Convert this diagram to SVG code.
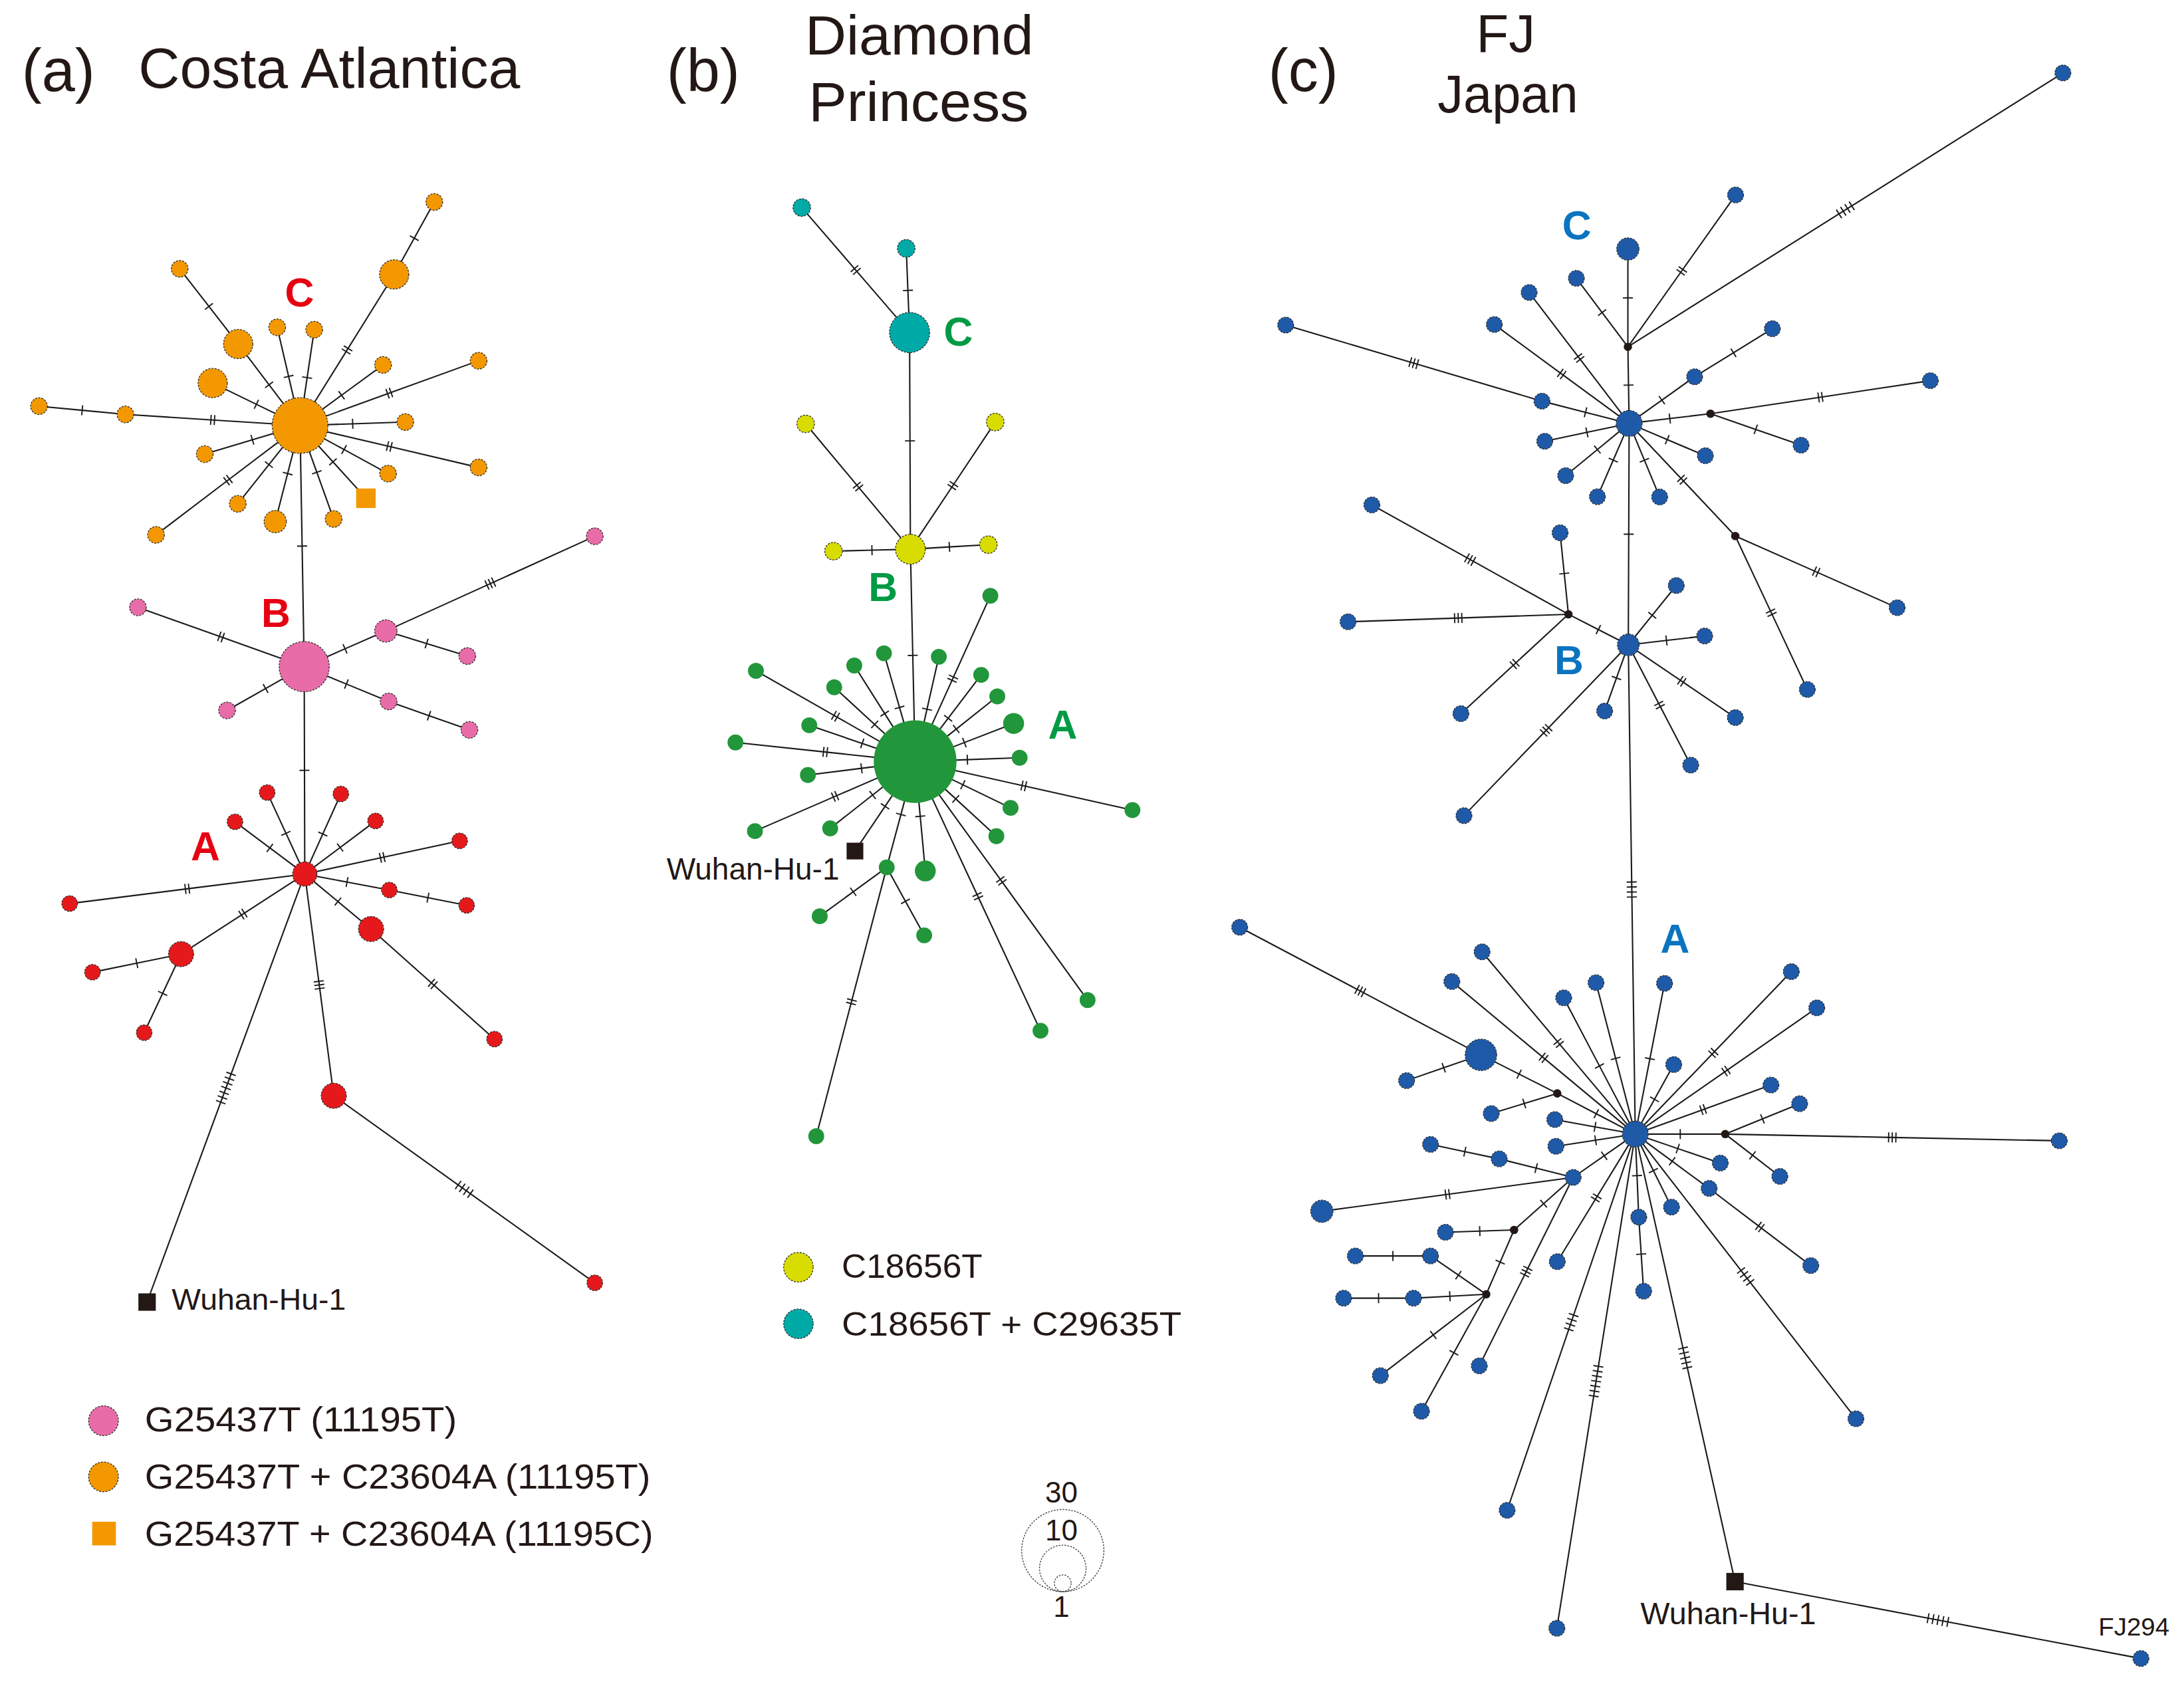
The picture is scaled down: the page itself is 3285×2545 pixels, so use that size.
<svg xmlns="http://www.w3.org/2000/svg" width="3285" height="2545" viewBox="0 0 3285 2545">
<defs>
<marker id="t1" markerUnits="userSpaceOnUse" orient="auto" viewBox="-20 -20 40 40" markerWidth="40" markerHeight="40" refX="0" refY="0" overflow="visible"><path d="M0 -3.6V3.6" stroke="#1a1a1a" stroke-width="0.9" fill="none"/></marker>
<marker id="t2" markerUnits="userSpaceOnUse" orient="auto" viewBox="-20 -20 40 40" markerWidth="40" markerHeight="40" refX="0" refY="0" overflow="visible"><path d="M-1.3 -3.6V3.6M1.3 -3.6V3.6" stroke="#1a1a1a" stroke-width="0.9" fill="none"/></marker>
<marker id="t3" markerUnits="userSpaceOnUse" orient="auto" viewBox="-20 -20 40 40" markerWidth="40" markerHeight="40" refX="0" refY="0" overflow="visible"><path d="M-2.6 -3.6V3.6M0 -3.6V3.6M2.6 -3.6V3.6" stroke="#1a1a1a" stroke-width="0.9" fill="none"/></marker>
<marker id="t4" markerUnits="userSpaceOnUse" orient="auto" viewBox="-20 -20 40 40" markerWidth="40" markerHeight="40" refX="0" refY="0" overflow="visible"><path d="M-5.4 -3.6V3.6M-1.8 -3.6V3.6M1.8 -3.6V3.6M5.4 -3.6V3.6" stroke="#1a1a1a" stroke-width="0.9" fill="none"/></marker>
<marker id="t5" markerUnits="userSpaceOnUse" orient="auto" viewBox="-20 -20 40 40" markerWidth="40" markerHeight="40" refX="0" refY="0" overflow="visible"><path d="M-7.2 -3.6V3.6M-3.6 -3.6V3.6M0 -3.6V3.6M3.6 -3.6V3.6M7.2 -3.6V3.6" stroke="#1a1a1a" stroke-width="0.9" fill="none"/></marker>
<marker id="t7" markerUnits="userSpaceOnUse" orient="auto" viewBox="-20 -20 40 40" markerWidth="40" markerHeight="40" refX="0" refY="0" overflow="visible"><path d="M-10.8 -3.6V3.6M-7.2 -3.6V3.6M-3.6 -3.6V3.6M0 -3.6V3.6M3.6 -3.6V3.6M7.2 -3.6V3.6M10.8 -3.6V3.6" stroke="#1a1a1a" stroke-width="0.9" fill="none"/></marker>
</defs>
<style>
.e{fill:none;stroke:#1a1a1a;stroke-width:1}
.m1{marker-mid:url(#t1)}.m2{marker-mid:url(#t2)}.m3{marker-mid:url(#t3)}.m4{marker-mid:url(#t4)}.m5{marker-mid:url(#t5)}.m7{marker-mid:url(#t7)}
.n{stroke:#2b2b2b;stroke-width:0.6;stroke-dasharray:1.4 0.9}
.or{fill:#f39800}.pk{fill:#e86ca7}.rd{fill:#e5191c}.tl{fill:#00aaa6}.yl{fill:#d8dc00}.gn{fill:#22963a}.bl{fill:#1f5aa8}.jn{fill:#231815}
.t{font-family:"Liberation Sans",Arial,sans-serif;fill:#231815}
.lb{font-family:"Liberation Sans",Arial,sans-serif;font-weight:bold;font-size:29px;text-anchor:middle}
.la{fill:#e60012}.lg{fill:#009a44}.lc{fill:#0a74c0}
.sc{fill:none;stroke:#333;stroke-width:0.6;stroke-dasharray:1.2 0.9}
</style>
<rect x="0" y="0" width="3285" height="2545" fill="#ffffff"/>
<g transform="scale(2.0951)">
<g id="titles">
<text class="t" x="15.6" y="65.5" font-size="43">(a)</text>
<text class="t" x="99.4" y="63" font-size="41" textLength="274" lengthAdjust="spacingAndGlyphs">Costa Atlantica</text>
<text class="t" x="478.6" y="65.5" font-size="43">(b)</text>
<text class="t" x="578" y="39.2" font-size="40" textLength="164" lengthAdjust="spacingAndGlyphs">Diamond</text>
<text class="t" x="580.5" y="87" font-size="40" textLength="158" lengthAdjust="spacingAndGlyphs">Princess</text>
<text class="t" x="910.6" y="65.5" font-size="43">(c)</text>
<text class="t" x="1081" y="37" font-size="38" text-anchor="middle">FJ</text>
<text class="t" x="1032" y="80.7" font-size="38" textLength="101" lengthAdjust="spacingAndGlyphs">Japan</text>
</g>
<g id="connectors">
<path class="e m2" d="M215.4 305.5L249.2 251.25L283 197"/>
<path class="e m1" d="M283 197L297.4 171L311.8 145"/>
<path class="e m1" d="M129 193L150 220L171 247"/>
<path class="e m1" d="M171 247L193.2 276.25L215.4 305.5"/>
<path class="e m1" d="M199 235L207.2 270.25L215.4 305.5"/>
<path class="e m1" d="M225.6 236.7L220.5 271.1L215.4 305.5"/>
<path class="e m1" d="M152.7 275L184.05 290.25L215.4 305.5"/>
<path class="e m1" d="M28 291.6L59 294.55L90 297.5"/>
<path class="e m2" d="M90 297.5L152.7 301.5L215.4 305.5"/>
<path class="e m1" d="M275 262L245.2 283.75L215.4 305.5"/>
<path class="e m2" d="M343.6 259L279.5 282.25L215.4 305.5"/>
<path class="e m1" d="M291 303L253.2 304.25L215.4 305.5"/>
<path class="e m2" d="M343.6 335.6L279.5 320.55L215.4 305.5"/>
<path class="e m1" d="M278.6 340L247 322.75L215.4 305.5"/>
<path class="e m1" d="M262.7 357.7L239.05 331.6L215.4 305.5"/>
<path class="e m1" d="M239.5 372.6L227.45 339.05L215.4 305.5"/>
<path class="e m1" d="M197.6 374.5L206.5 340L215.4 305.5"/>
<path class="e m1" d="M170.7 361.7L193.05 333.6L215.4 305.5"/>
<path class="e m2" d="M112 384L163.7 344.75L215.4 305.5"/>
<path class="e m1" d="M147 326L181.2 315.75L215.4 305.5"/>
<path class="e m1" d="M215.4 305.5L216.9 392.05L218.4 478.6"/>
<path class="e m2" d="M99 436L158.7 457.3L218.4 478.6"/>
<path class="e m1" d="M218.4 478.6L247.7 465.8L277 453"/>
<path class="e m3" d="M277 453L352 419L427 385"/>
<path class="e m1" d="M277 453L306.25 462L335.5 471"/>
<path class="e m1" d="M218.4 478.6L190.7 494.3L163 510"/>
<path class="e m1" d="M218.4 478.6L248.7 491.1L279 503.6"/>
<path class="e m1" d="M279 503.6L308 513.8L337 524"/>
<path class="e m1" d="M218.4 478.6L218.6 553.05L218.8 627.5"/>
<path class="e m1" d="M218.8 627.5L205.3 598.25L191.8 569"/>
<path class="e m1" d="M218.8 627.5L231.75 598.75L244.7 570"/>
<path class="e m1" d="M218.8 627.5L193.75 608.75L168.7 590"/>
<path class="e m1" d="M218.8 627.5L244.2 608.45L269.6 589.4"/>
<path class="e m2" d="M218.8 627.5L274.4 615.6L330 603.7"/>
<path class="e m2" d="M218.8 627.5L134.4 638.1L50 648.7"/>
<path class="e m1" d="M218.8 627.5L249.15 633.25L279.5 639"/>
<path class="e m1" d="M279.5 639L307.25 644.5L335 650"/>
<path class="e m1" d="M218.8 627.5L242.6 647.25L266.4 667"/>
<path class="e m2" d="M266.4 667L310.7 706.5L355 746"/>
<path class="e m2" d="M218.8 627.5L174.4 656.25L130 685"/>
<path class="e m1" d="M130 685L98.2 691.5L66.4 698"/>
<path class="e m1" d="M130 685L116.75 713.2L103.5 741.4"/>
<path class="e m3" d="M218.8 627.5L229.2 707.1L239.6 786.7"/>
<path class="e m4" d="M239.6 786.7L333.3 853.85L427 921"/>
<path class="e m7" d="M218.8 627.5L162.2 781.15L105.6 934.8"/>
<path class="e m2" d="M575.6 149L614.3 193.85L653 238.7"/>
<path class="e m1" d="M650.6 178.3L651.8 208.5L653 238.7"/>
<path class="e m1" d="M653 238.7L653.3 316.5L653.6 394.3"/>
<path class="e m2" d="M578.4 304.3L616 349.3L653.6 394.3"/>
<path class="e m2" d="M714.5 303L684.05 348.65L653.6 394.3"/>
<path class="e m1" d="M598.4 395.7L626 395L653.6 394.3"/>
<path class="e m1" d="M653.6 394.3L681.6 392.65L709.6 391"/>
<path class="e m1" d="M653.6 394.3L655.3 470.55L657 546.8"/>
<path class="e m2" d="M711 427.7L684 487.25L657 546.8"/>
<path class="e m1" d="M634.6 469L645.8 507.9L657 546.8"/>
<path class="e m1" d="M674 471.5L665.5 509.15L657 546.8"/>
<path class="e m1" d="M613.3 477.8L635.15 512.3L657 546.8"/>
<path class="e m1" d="M598.9 493.4L627.95 520.1L657 546.8"/>
<path class="e m2" d="M542.7 481.6L599.85 514.2L657 546.8"/>
<path class="e m1" d="M581 520.7L619 533.75L657 546.8"/>
<path class="e m2" d="M528 533L592.5 539.9L657 546.8"/>
<path class="e m1" d="M580 556.4L618.5 551.6L657 546.8"/>
<path class="e m2" d="M542 596.7L599.5 571.75L657 546.8"/>
<path class="e m1" d="M596 594.7L626.5 570.75L657 546.8"/>
<path class="e m1" d="M613.8 611L635.4 578.9L657 546.8"/>
<path class="e m1" d="M636.6 622.7L646.8 584.75L657 546.8"/>
<path class="e m1" d="M664.3 625.3L660.65 586.05L657 546.8"/>
<path class="e m1" d="M636.6 622.7L612.55 640.25L588.5 657.8"/>
<path class="e m1" d="M636.6 622.7L650.05 647.1L663.5 671.5"/>
<path class="e m2" d="M636.6 622.7L611.3 719.2L586 815.7"/>
<path class="e m2" d="M657 546.8L702 643.4L747 740"/>
<path class="e m2" d="M657 546.8L718.9 632.4L780.8 718"/>
<path class="e m1" d="M657 546.8L686.15 573.55L715.3 600.3"/>
<path class="e m1" d="M657 546.8L691.25 563.4L725.5 580"/>
<path class="e m2" d="M657 546.8L735 564.2L813 581.6"/>
<path class="e m1" d="M657 546.8L694.5 545.4L732 544"/>
<path class="e m1" d="M657 546.8L692.35 533.1L727.7 519.4"/>
<path class="e m1" d="M657 546.8L686.5 523.4L716 500"/>
<path class="e m1" d="M657 546.8L680.7 515.65L704.4 484.5"/>
<path class="e m1" d="M1168.7 178.8L1168.7 213.9L1168.7 249"/>
<path class="e m2" d="M1246 140L1207.35 194.5L1168.7 249"/>
<path class="e m4" d="M1168.7 249L1324.85 150.7L1481 52.4"/>
<path class="e m1" d="M1131.7 199.8L1150.2 224.4L1168.7 249"/>
<path class="e m1" d="M1168.7 249L1169.15 276.5L1169.6 304"/>
<path class="e m2" d="M1097.8 210L1133.7 257L1169.6 304"/>
<path class="e m2" d="M1072.8 233L1121.2 268.5L1169.6 304"/>
<path class="e m3" d="M923 233.4L1015 260.7L1107 288"/>
<path class="e m1" d="M1107 288L1138.3 296L1169.6 304"/>
<path class="e m1" d="M1109 316.8L1139.3 310.4L1169.6 304"/>
<path class="e m1" d="M1124 341.5L1146.8 322.75L1169.6 304"/>
<path class="e m1" d="M1146.8 356.6L1158.2 330.3L1169.6 304"/>
<path class="e m1" d="M1191.5 356.8L1180.55 330.4L1169.6 304"/>
<path class="e m1" d="M1224.3 327.2L1196.95 315.6L1169.6 304"/>
<path class="e m1" d="M1216.6 270.5L1193.1 287.25L1169.6 304"/>
<path class="e m1" d="M1216.6 270.5L1244.5 253.25L1272.4 236"/>
<path class="e m1" d="M1169.6 304L1198.8 300.5L1228 297"/>
<path class="e m2" d="M1228 297L1306.9 285.15L1385.8 273.3"/>
<path class="e m1" d="M1228 297L1260.5 308.3L1293 319.6"/>
<path class="e m2" d="M1169.6 304L1207.7 344.4L1245.8 384.8"/>
<path class="e m2" d="M1245.8 384.8L1303.9 410.55L1362 436.3"/>
<path class="e m2" d="M1245.8 384.8L1271.65 439.9L1297.5 495"/>
<path class="e m1" d="M1169.6 304L1169.3 383.5L1169 463"/>
<path class="e m1" d="M1126 441L1123 411.75L1120 382.5"/>
<path class="e m3" d="M1126 441L1055.45 401.75L984.9 362.5"/>
<path class="e m3" d="M1126 441L1046.9 443.7L967.8 446.4"/>
<path class="e m2" d="M1126 441L1087.4 476.7L1048.8 512.4"/>
<path class="e m1" d="M1126 441L1147.5 452L1169 463"/>
<path class="e m3" d="M1169 463L1110 524.3L1051 585.6"/>
<path class="e m1" d="M1169 463L1186.2 441.7L1203.4 420.4"/>
<path class="e m1" d="M1169 463L1196.4 459.8L1223.8 456.6"/>
<path class="e m2" d="M1169 463L1207.4 489.1L1245.8 515.2"/>
<path class="e m2" d="M1169 463L1191.4 506.15L1213.8 549.3"/>
<path class="e m1" d="M1169 463L1160.5 486.75L1152 510.5"/>
<path class="e m4" d="M1169 463L1171.5 638.6L1174 814.2"/>
<path class="e m3" d="M890 665.7L976.6 711.5L1063.2 757.3"/>
<path class="e m1" d="M1063.2 757.3L1036.5 766.55L1009.8 775.8"/>
<path class="e m1" d="M1063.2 757.3L1090.6 771.15L1118 785"/>
<path class="e m1" d="M1118 785L1146 799.6L1174 814.2"/>
<path class="e m1" d="M1118 785L1094.3 792.25L1070.6 799.5"/>
<path class="e m2" d="M1174 814.2L1119 748.8L1064 683.4"/>
<path class="e m2" d="M1174 814.2L1108.15 759.45L1042.3 704.7"/>
<path class="e m1" d="M1174 814.2L1148.3 765.3L1122.6 716.4"/>
<path class="e m1" d="M1174 814.2L1159.9 759.85L1145.8 705.5"/>
<path class="e m1" d="M1174 814.2L1184.5 760.1L1195 706"/>
<path class="e m1" d="M1174 814.2L1187.8 789.25L1201.6 764.3"/>
<path class="e m2" d="M1174 814.2L1230 755.9L1286 697.6"/>
<path class="e m2" d="M1174 814.2L1239.15 768.9L1304.3 723.6"/>
<path class="e m2" d="M1174 814.2L1222.7 796.6L1271.4 779"/>
<path class="e m1" d="M1174 814.2L1145.1 809L1116.2 803.8"/>
<path class="e m1" d="M1174 814.2L1145.5 818.6L1117 823"/>
<path class="e m1" d="M1174 814.2L1206.3 814.2L1238.6 814.2"/>
<path class="e m1" d="M1238.6 814.2L1265.3 803.3L1292 792.4"/>
<path class="e m3" d="M1238.6 814.2L1358.5 816.6L1478.4 819"/>
<path class="e m1" d="M1238.6 814.2L1258.2 829.4L1277.8 844.6"/>
<path class="e m1" d="M1174 814.2L1204.5 824.6L1235 835"/>
<path class="e m1" d="M1174 814.2L1200.5 833.7L1227 853.2"/>
<path class="e m2" d="M1227 853.2L1263.5 880.9L1300 908.6"/>
<path class="e m1" d="M1174 814.2L1187 840.4L1200 866.6"/>
<path class="e m1" d="M1174 814.2L1175.25 844L1176.5 873.8"/>
<path class="e m1" d="M1176.5 873.8L1178.25 900.4L1180 927"/>
<path class="e m2" d="M1174 814.2L1146 860L1118 905.8"/>
<path class="e m1" d="M1174 814.2L1151.7 829.75L1129.4 845.3"/>
<path class="e m1" d="M1129.4 845.3L1102.85 838.65L1076.3 832"/>
<path class="e m1" d="M1076.3 832L1051.65 826.8L1027 821.6"/>
<path class="e m2" d="M1129.4 845.3L1039.2 857.45L949 869.6"/>
<path class="e m1" d="M1129.4 845.3L1108.2 864.15L1087 883"/>
<path class="e m1" d="M1087 883L1062.35 883.85L1037.7 884.7"/>
<path class="e m1" d="M1087 883L1077 906.1L1067 929.2"/>
<path class="e m1" d="M1067 929.2L1040.9 930.6L1014.8 932"/>
<path class="e m1" d="M1014.8 932L989.7 932L964.6 932"/>
<path class="e m1" d="M1067 929.2L1047 915.45L1027 901.7"/>
<path class="e m1" d="M1027 901.7L1000 901.7L973 901.7"/>
<path class="e m1" d="M1067 929.2L1029 958.4L991 987.6"/>
<path class="e m1" d="M1067 929.2L1043.75 971.2L1020.5 1013.2"/>
<path class="e m3" d="M1129.4 845.3L1095.7 912.95L1062 980.6"/>
<path class="e m4" d="M1174 814.2L1128 949.25L1082 1084.3"/>
<path class="e m7" d="M1174 814.2L1145.85 991.6L1117.7 1169"/>
<path class="e m5" d="M1174 814.2L1209.8 974.85L1245.6 1135.5"/>
<path class="e m4" d="M1174 814.2L1253.2 916.4L1332.4 1018.6"/>
<path class="e m5" d="M1245.6 1135.5L1391.3 1163.1L1537 1190.7"/>
</g>
<g id="nodes-a">
<g id="a-C"><circle class="n or" cx="215.4" cy="305.5" r="20"/></g>
<g id="a-o1"><circle class="n or" cx="311.8" cy="145" r="6"/></g>
<g id="a-o2"><circle class="n or" cx="283" cy="197" r="10.5"/></g>
<g id="a-o3"><circle class="n or" cx="129" cy="193" r="6"/></g>
<g id="a-o4"><circle class="n or" cx="171" cy="247" r="10.5"/></g>
<g id="a-o5"><circle class="n or" cx="199" cy="235" r="6"/></g>
<g id="a-o6"><circle class="n or" cx="225.6" cy="236.7" r="6"/></g>
<g id="a-o7"><circle class="n or" cx="152.7" cy="275" r="10.5"/></g>
<g id="a-o8"><circle class="n or" cx="28" cy="291.6" r="6"/></g>
<g id="a-o9"><circle class="n or" cx="90" cy="297.5" r="6"/></g>
<g id="a-o10"><circle class="n or" cx="275" cy="262" r="6"/></g>
<g id="a-o11"><circle class="n or" cx="343.6" cy="259" r="6"/></g>
<g id="a-o12"><circle class="n or" cx="291" cy="303" r="6"/></g>
<g id="a-o13"><circle class="n or" cx="343.6" cy="335.6" r="6"/></g>
<g id="a-o14"><circle class="n or" cx="278.6" cy="340" r="6"/></g>
<g id="a-sq"><rect class="or" x="255.7" y="350.7" width="14" height="14"/></g>
<g id="a-o15"><circle class="n or" cx="239.5" cy="372.6" r="6"/></g>
<g id="a-o16"><circle class="n or" cx="197.6" cy="374.5" r="8"/></g>
<g id="a-o17"><circle class="n or" cx="170.7" cy="361.7" r="6"/></g>
<g id="a-o18"><circle class="n or" cx="112" cy="384" r="6"/></g>
<g id="a-o19"><circle class="n or" cx="147" cy="326" r="6"/></g>
<g id="a-B"><circle class="n pk" cx="218.4" cy="478.6" r="18"/></g>
<g id="a-p1"><circle class="n pk" cx="99" cy="436" r="6"/></g>
<g id="a-p2"><circle class="n pk" cx="277" cy="453" r="8"/></g>
<g id="a-p3"><circle class="n pk" cx="427" cy="385" r="6"/></g>
<g id="a-p4"><circle class="n pk" cx="335.5" cy="471" r="6"/></g>
<g id="a-p5"><circle class="n pk" cx="163" cy="510" r="6"/></g>
<g id="a-p6"><circle class="n pk" cx="279" cy="503.6" r="6"/></g>
<g id="a-p7"><circle class="n pk" cx="337" cy="524" r="6"/></g>
<g id="a-A"><circle class="n rd" cx="218.8" cy="627.5" r="8.7"/></g>
<g id="a-r1"><circle class="n rd" cx="191.8" cy="569" r="5.6"/></g>
<g id="a-r2"><circle class="n rd" cx="244.7" cy="570" r="5.6"/></g>
<g id="a-r3"><circle class="n rd" cx="168.7" cy="590" r="5.6"/></g>
<g id="a-r4"><circle class="n rd" cx="269.6" cy="589.4" r="5.6"/></g>
<g id="a-r5"><circle class="n rd" cx="330" cy="603.7" r="5.6"/></g>
<g id="a-r6"><circle class="n rd" cx="50" cy="648.7" r="5.6"/></g>
<g id="a-r7"><circle class="n rd" cx="279.5" cy="639" r="5.6"/></g>
<g id="a-r8"><circle class="n rd" cx="335" cy="650" r="5.6"/></g>
<g id="a-r9"><circle class="n rd" cx="266.4" cy="667" r="9"/></g>
<g id="a-r10"><circle class="n rd" cx="355" cy="746" r="5.6"/></g>
<g id="a-r11"><circle class="n rd" cx="130" cy="685" r="9"/></g>
<g id="a-r12"><circle class="n rd" cx="66.4" cy="698" r="5.6"/></g>
<g id="a-r13"><circle class="n rd" cx="103.5" cy="741.4" r="5.6"/></g>
<g id="a-r14"><circle class="n rd" cx="239.6" cy="786.7" r="9"/></g>
<g id="a-r15"><circle class="n rd" cx="427" cy="921" r="5.6"/></g>
<g id="a-wuhan"><rect class="jn" x="99.35" y="928.55" width="12.5" height="12.5"/><text class="t" x="123.3" y="940.1" font-size="21.5" textLength="125" lengthAdjust="spacingAndGlyphs">Wuhan-Hu-1</text></g>
<g id="a-labels"><text class="lb la" x="215" y="220">C</text><text class="lb la" x="198" y="450.3">B</text><text class="lb la" x="147.5" y="617.4">A</text></g>
</g>
<g id="nodes-b">
<g id="b-C"><circle class="n tl" cx="653" cy="238.7" r="14.4"/></g>
<g id="b-t1"><circle class="n tl" cx="575.6" cy="149" r="6.3"/></g>
<g id="b-t2"><circle class="n tl" cx="650.6" cy="178.3" r="6.3"/></g>
<g id="b-B"><circle class="n yl" cx="653.6" cy="394.3" r="10.7"/></g>
<g id="b-y1"><circle class="n yl" cx="578.4" cy="304.3" r="6.3"/></g>
<g id="b-y2"><circle class="n yl" cx="714.5" cy="303" r="6.3"/></g>
<g id="b-y3"><circle class="n yl" cx="598.4" cy="395.7" r="6.3"/></g>
<g id="b-y4"><circle class="n yl" cx="709.6" cy="391" r="6.3"/></g>
<g id="b-A"><circle class="gn" cx="657" cy="546.8" r="29.7"/></g>
<g id="b-g1"><circle class="gn" cx="711" cy="427.7" r="5.7"/></g>
<g id="b-g2"><circle class="gn" cx="634.6" cy="469" r="5.7"/></g>
<g id="b-g3"><circle class="gn" cx="674" cy="471.5" r="5.7"/></g>
<g id="b-g4"><circle class="gn" cx="613.3" cy="477.8" r="5.7"/></g>
<g id="b-g5"><circle class="gn" cx="598.9" cy="493.4" r="5.7"/></g>
<g id="b-g6"><circle class="gn" cx="542.7" cy="481.6" r="5.7"/></g>
<g id="b-g7"><circle class="gn" cx="581" cy="520.7" r="5.7"/></g>
<g id="b-g8"><circle class="gn" cx="528" cy="533" r="5.7"/></g>
<g id="b-g9"><circle class="gn" cx="580" cy="556.4" r="5.7"/></g>
<g id="b-g10"><circle class="gn" cx="542" cy="596.7" r="5.7"/></g>
<g id="b-g11"><circle class="gn" cx="596" cy="594.7" r="5.7"/></g>
<g id="b-g12"><circle class="gn" cx="636.6" cy="622.7" r="5.7"/></g>
<g id="b-g13"><circle class="gn" cx="664.3" cy="625.3" r="7.5"/></g>
<g id="b-g14"><circle class="gn" cx="588.5" cy="657.8" r="5.7"/></g>
<g id="b-g15"><circle class="gn" cx="663.5" cy="671.5" r="5.7"/></g>
<g id="b-g16"><circle class="gn" cx="586" cy="815.7" r="5.7"/></g>
<g id="b-g17"><circle class="gn" cx="747" cy="740" r="5.7"/></g>
<g id="b-g18"><circle class="gn" cx="780.8" cy="718" r="5.7"/></g>
<g id="b-g19"><circle class="gn" cx="715.3" cy="600.3" r="5.7"/></g>
<g id="b-g20"><circle class="gn" cx="725.5" cy="580" r="5.7"/></g>
<g id="b-g21"><circle class="gn" cx="813" cy="581.6" r="5.7"/></g>
<g id="b-g22"><circle class="gn" cx="732" cy="544" r="5.7"/></g>
<g id="b-g23"><circle class="gn" cx="727.7" cy="519.4" r="7.5"/></g>
<g id="b-g24"><circle class="gn" cx="716" cy="500" r="5.7"/></g>
<g id="b-g25"><circle class="gn" cx="704.4" cy="484.5" r="5.7"/></g>
<g id="b-wuhan"><rect class="jn" x="607.8" y="605" width="12" height="12"/><text class="t" x="478.6" y="631.7" font-size="22.5" textLength="124" lengthAdjust="spacingAndGlyphs">Wuhan-Hu-1</text></g>
<g id="b-labels"><text class="lb lg" x="688" y="248.2">C</text><text class="lb lg" x="634" y="431.5">B</text><text class="lb lg" x="763" y="530.3">A</text></g>
</g>
<g id="nodes-c">
<g id="c-Cn"><circle class="n bl" cx="1168.7" cy="178.8" r="8"/></g>
<g id="c-j1"><circle class="jn" cx="1168.7" cy="249" r="3"/></g>
<g id="c-c1"><circle class="n bl" cx="1246" cy="140" r="5.7"/></g>
<g id="c-c2"><circle class="n bl" cx="1481" cy="52.4" r="5.7"/></g>
<g id="c-c3"><circle class="n bl" cx="1131.7" cy="199.8" r="5.7"/></g>
<g id="c-C"><circle class="n bl" cx="1169.6" cy="304" r="9.3"/></g>
<g id="c-c4"><circle class="n bl" cx="1097.8" cy="210" r="5.7"/></g>
<g id="c-c5"><circle class="n bl" cx="1072.8" cy="233" r="5.7"/></g>
<g id="c-c6"><circle class="n bl" cx="923" cy="233.4" r="5.7"/></g>
<g id="c-c7"><circle class="n bl" cx="1107" cy="288" r="5.7"/></g>
<g id="c-c8"><circle class="n bl" cx="1109" cy="316.8" r="5.7"/></g>
<g id="c-c9"><circle class="n bl" cx="1124" cy="341.5" r="5.7"/></g>
<g id="c-c10"><circle class="n bl" cx="1146.8" cy="356.6" r="5.7"/></g>
<g id="c-c11"><circle class="n bl" cx="1191.5" cy="356.8" r="5.7"/></g>
<g id="c-c12"><circle class="n bl" cx="1224.3" cy="327.2" r="5.7"/></g>
<g id="c-c13"><circle class="n bl" cx="1216.6" cy="270.5" r="5.7"/></g>
<g id="c-c14"><circle class="n bl" cx="1272.4" cy="236" r="5.7"/></g>
<g id="c-j2"><circle class="jn" cx="1228" cy="297" r="3"/></g>
<g id="c-c15"><circle class="n bl" cx="1385.8" cy="273.3" r="5.7"/></g>
<g id="c-c16"><circle class="n bl" cx="1293" cy="319.6" r="5.7"/></g>
<g id="c-j3"><circle class="jn" cx="1245.8" cy="384.8" r="3"/></g>
<g id="c-c17"><circle class="n bl" cx="1362" cy="436.3" r="5.7"/></g>
<g id="c-c18"><circle class="n bl" cx="1297.5" cy="495" r="5.7"/></g>
<g id="c-B"><circle class="n bl" cx="1169" cy="463" r="7.8"/></g>
<g id="c-jB"><circle class="jn" cx="1126" cy="441" r="3"/></g>
<g id="c-b1"><circle class="n bl" cx="1120" cy="382.5" r="5.7"/></g>
<g id="c-b2"><circle class="n bl" cx="984.9" cy="362.5" r="5.7"/></g>
<g id="c-b3"><circle class="n bl" cx="967.8" cy="446.4" r="5.7"/></g>
<g id="c-b4"><circle class="n bl" cx="1048.8" cy="512.4" r="5.7"/></g>
<g id="c-b5"><circle class="n bl" cx="1051" cy="585.6" r="5.7"/></g>
<g id="c-b6"><circle class="n bl" cx="1203.4" cy="420.4" r="5.7"/></g>
<g id="c-b7"><circle class="n bl" cx="1223.8" cy="456.6" r="5.7"/></g>
<g id="c-b8"><circle class="n bl" cx="1245.8" cy="515.2" r="5.7"/></g>
<g id="c-b9"><circle class="n bl" cx="1213.8" cy="549.3" r="5.7"/></g>
<g id="c-b10"><circle class="n bl" cx="1152" cy="510.5" r="5.7"/></g>
<g id="c-A"><circle class="n bl" cx="1174" cy="814.2" r="9.3"/></g>
<g id="c-a1"><circle class="n bl" cx="890" cy="665.7" r="5.7"/></g>
<g id="c-a2"><circle class="n bl" cx="1063.2" cy="757.3" r="11.3"/></g>
<g id="c-a3"><circle class="n bl" cx="1009.8" cy="775.8" r="5.7"/></g>
<g id="c-jA1"><circle class="jn" cx="1118" cy="785" r="3"/></g>
<g id="c-a4"><circle class="n bl" cx="1070.6" cy="799.5" r="5.7"/></g>
<g id="c-a5"><circle class="n bl" cx="1064" cy="683.4" r="5.7"/></g>
<g id="c-a6"><circle class="n bl" cx="1042.3" cy="704.7" r="5.7"/></g>
<g id="c-a7"><circle class="n bl" cx="1122.6" cy="716.4" r="5.7"/></g>
<g id="c-a8"><circle class="n bl" cx="1145.8" cy="705.5" r="5.7"/></g>
<g id="c-a9"><circle class="n bl" cx="1195" cy="706" r="5.7"/></g>
<g id="c-a10"><circle class="n bl" cx="1201.6" cy="764.3" r="5.7"/></g>
<g id="c-a11"><circle class="n bl" cx="1286" cy="697.6" r="5.7"/></g>
<g id="c-a12"><circle class="n bl" cx="1304.3" cy="723.6" r="5.7"/></g>
<g id="c-a13"><circle class="n bl" cx="1271.4" cy="779" r="5.7"/></g>
<g id="c-a14"><circle class="n bl" cx="1116.2" cy="803.8" r="5.7"/></g>
<g id="c-a15"><circle class="n bl" cx="1117" cy="823" r="5.7"/></g>
<g id="c-jA2"><circle class="jn" cx="1238.6" cy="814.2" r="3"/></g>
<g id="c-a16"><circle class="n bl" cx="1292" cy="792.4" r="5.7"/></g>
<g id="c-a17"><circle class="n bl" cx="1478.4" cy="819" r="5.7"/></g>
<g id="c-a18"><circle class="n bl" cx="1277.8" cy="844.6" r="5.7"/></g>
<g id="c-a19"><circle class="n bl" cx="1235" cy="835" r="5.7"/></g>
<g id="c-a20"><circle class="n bl" cx="1227" cy="853.2" r="5.7"/></g>
<g id="c-a21"><circle class="n bl" cx="1300" cy="908.6" r="5.7"/></g>
<g id="c-a22"><circle class="n bl" cx="1200" cy="866.6" r="5.7"/></g>
<g id="c-a23"><circle class="n bl" cx="1176.5" cy="873.8" r="5.7"/></g>
<g id="c-a24"><circle class="n bl" cx="1180" cy="927" r="5.7"/></g>
<g id="c-a25"><circle class="n bl" cx="1118" cy="905.8" r="5.7"/></g>
<g id="c-a26"><circle class="n bl" cx="1129.4" cy="845.3" r="5.7"/></g>
<g id="c-a27"><circle class="n bl" cx="1076.3" cy="832" r="5.7"/></g>
<g id="c-a28"><circle class="n bl" cx="1027" cy="821.6" r="5.7"/></g>
<g id="c-a29"><circle class="n bl" cx="949" cy="869.6" r="8"/></g>
<g id="c-jA3"><circle class="jn" cx="1087" cy="883" r="3"/></g>
<g id="c-a30"><circle class="n bl" cx="1037.7" cy="884.7" r="5.7"/></g>
<g id="c-jA4"><circle class="jn" cx="1067" cy="929.2" r="3"/></g>
<g id="c-a31"><circle class="n bl" cx="1014.8" cy="932" r="5.7"/></g>
<g id="c-a32"><circle class="n bl" cx="964.6" cy="932" r="5.7"/></g>
<g id="c-a33"><circle class="n bl" cx="1027" cy="901.7" r="5.7"/></g>
<g id="c-a34"><circle class="n bl" cx="973" cy="901.7" r="5.7"/></g>
<g id="c-a35"><circle class="n bl" cx="991" cy="987.6" r="5.7"/></g>
<g id="c-a36"><circle class="n bl" cx="1020.5" cy="1013.2" r="5.7"/></g>
<g id="c-a37"><circle class="n bl" cx="1062" cy="980.6" r="5.7"/></g>
<g id="c-a38"><circle class="n bl" cx="1082" cy="1084.3" r="5.7"/></g>
<g id="c-a39"><circle class="n bl" cx="1117.7" cy="1169" r="5.7"/></g>
<g id="c-a40"><circle class="n bl" cx="1332.4" cy="1018.6" r="5.7"/></g>
<g id="c-wuhan"><rect class="jn" x="1239.35" y="1129.25" width="12.5" height="12.5"/><text class="t" x="1177.8" y="1166" font-size="22" textLength="126" lengthAdjust="spacingAndGlyphs">Wuhan-Hu-1</text></g>
<g id="c-fj294"><circle class="n bl" cx="1537" cy="1190.7" r="5.7"/><text class="t" x="1506.5" y="1174.4" font-size="18" textLength="51" lengthAdjust="spacingAndGlyphs">FJ294</text></g>
<g id="c-labels"><text class="lb lc" x="1132" y="171.8">C</text><text class="lb lc" x="1126.4" y="484">B</text><text class="lb lc" x="1202.5" y="683.8">A</text></g>
</g>
<g id="legend-a">
<circle class="n pk" cx="74.3" cy="1020" r="10.7"/>
<text class="t" x="104" y="1027.5" font-size="25" textLength="224" lengthAdjust="spacingAndGlyphs">G25437T (11195T)</text>
<circle class="n or" cx="74.3" cy="1060.3" r="10.7"/>
<text class="t" x="104" y="1068.7" font-size="25" textLength="363" lengthAdjust="spacingAndGlyphs">G25437T + C23604A (11195T)</text>
<rect class="or" x="66.2" y="1092.5" width="17" height="17"/>
<text class="t" x="104" y="1109.6" font-size="25" textLength="365" lengthAdjust="spacingAndGlyphs">G25437T + C23604A (11195C)</text>
</g>
<g id="legend-b">
<circle class="n yl" cx="573.2" cy="909.8" r="10.6"/>
<text class="t" x="604.3" y="917.2" font-size="24" textLength="101" lengthAdjust="spacingAndGlyphs">C18656T</text>
<circle class="n tl" cx="573.2" cy="950.4" r="10.6"/>
<text class="t" x="604.3" y="958.8" font-size="24" textLength="244" lengthAdjust="spacingAndGlyphs">C18656T + C29635T</text>
</g>
<g id="size-scale">
<circle class="sc" cx="763" cy="1113.2" r="29.5"/>
<circle class="sc" cx="763" cy="1126" r="16.7"/>
<circle class="sc" cx="763" cy="1136.7" r="6"/>
<text class="t" x="762" y="1078.5" font-size="21" text-anchor="middle">30</text>
<text class="t" x="762" y="1106" font-size="21" text-anchor="middle">10</text>
<text class="t" x="762" y="1160.6" font-size="21" text-anchor="middle">1</text>
</g>
</g>
</svg>
